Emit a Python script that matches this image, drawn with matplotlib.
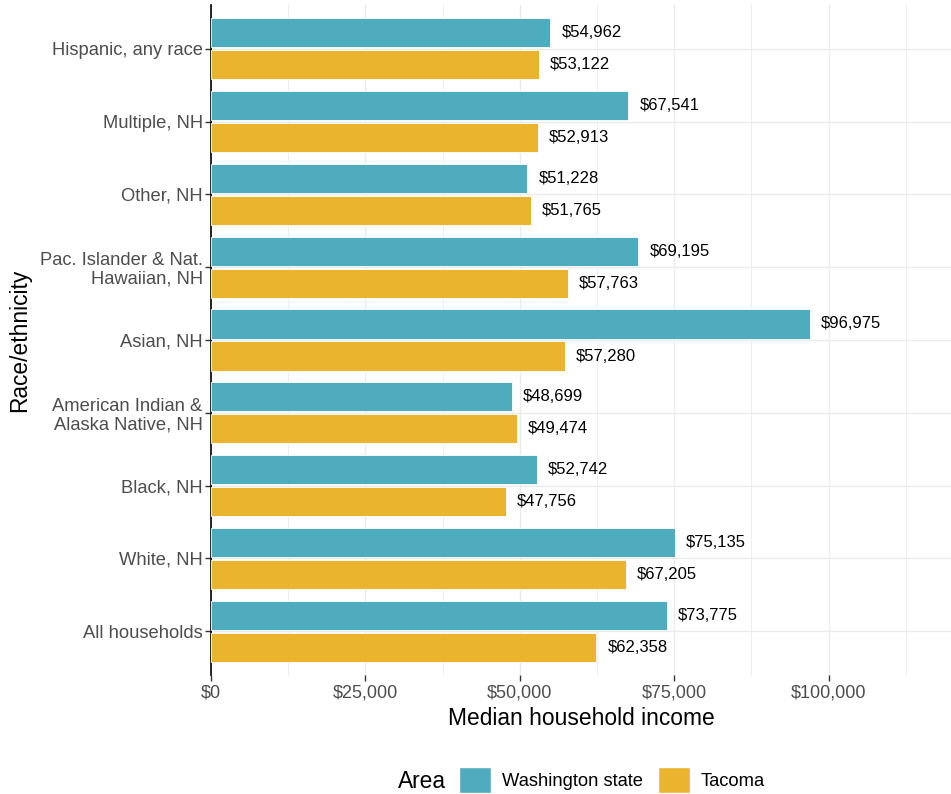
import matplotlib
matplotlib.use("Agg")
import matplotlib.pyplot as plt
import numpy as np
from matplotlib.patches import Patch
from matplotlib.ticker import MultipleLocator, FuncFormatter

plt.rcParams['font.family'] = ['Liberation Sans', 'DejaVu Sans']

categories = ["All households", "White, NH", "Black, NH",
              "American Indian &\nAlaska Native, NH", "Asian, NH",
              "Pac. Islander & Nat.\nHawaiian, NH", "Other, NH",
              "Multiple, NH", "Hispanic, any race"]
washington = [73775, 75135, 52742, 48699, 96975, 69195, 51228, 67541, 54962]
tacoma = [62358, 67205, 47756, 49474, 57280, 57763, 51765, 52913, 53122]
series_names = ["Washington state", "Tacoma"]
colors = ["#4FACBF", "#EAB42F"]

fig = plt.figure(figsize=(9.51, 7.94), dpi=100)
ax = fig.add_axes([211/951, 1-675/794, 1-211/951, (675-5)/794])

y = np.arange(len(categories))
h = 0.4
off = 0.22
ax.barh(y + off, washington, height=h, color=colors[0], edgecolor="white", linewidth=0.6, zorder=3)
ax.barh(y - off, tacoma, height=h, color=colors[1], edgecolor="white", linewidth=0.6, zorder=3)

for vals, yy in ((washington, y + off), (tacoma, y - off)):
    for v, yv in zip(vals, yy):
        ax.annotate(f"${v:,}", (v, yv), xytext=(8, 0), textcoords="offset points",
                    va="center", ha="left", fontsize=12, color="black", zorder=4)

ax.set_xlim(0, 119800)
ax.set_ylim(-0.6, 8.6)
ax.set_yticks(y)
ax.set_yticklabels(categories, fontsize=13.2, color="#4D4D4D", linespacing=1.1)
ax.xaxis.set_major_locator(MultipleLocator(25000))
ax.xaxis.set_minor_locator(MultipleLocator(12500))
ax.xaxis.set_major_formatter(FuncFormatter(lambda v, p: f"${int(v):,}"))
ax.tick_params(axis="x", which="major", labelsize=13, labelcolor="#4D4D4D", color="#333333", length=4, width=1, pad=3)
ax.tick_params(axis="x", which="minor", length=0)
ax.tick_params(axis="y", labelsize=13.2, length=4, color="#333333", width=1, pad=2)

ax.grid(True, axis="x", which="major", color="#EBEBEB", linewidth=1.0, zorder=0)
ax.grid(True, axis="x", which="minor", color="#EBEBEB", linewidth=0.6, zorder=0)
ax.grid(True, axis="y", which="major", color="#EBEBEB", linewidth=1.0, zorder=0)
ax.set_axisbelow(True)
for s in ["top", "right", "bottom"]:
    ax.spines[s].set_visible(False)
ax.spines["left"].set_color("black")
ax.spines["left"].set_linewidth(1.2)

ax.set_xlabel("Median household income", fontsize=16.4, color="black", labelpad=4)
ax.set_ylabel("Race/ethnicity", fontsize=16.4, color="black", labelpad=6)

handles = [Patch(facecolor=colors[0], edgecolor="white"), Patch(facecolor=colors[1], edgecolor="white")]
fig.text(398/951, 1-781/794, "Area", fontsize=16.4, va="center", ha="left")
fig.legend(handles, series_names, loc="center left", bbox_to_anchor=(459/951, 1-780/794),
           ncol=2, frameon=False, fontsize=13.2, handlelength=1.75, handleheight=1.75,
           handletextpad=0.6, columnspacing=0.8, borderaxespad=0, borderpad=0)

fig.savefig("out.png", dpi=100)
